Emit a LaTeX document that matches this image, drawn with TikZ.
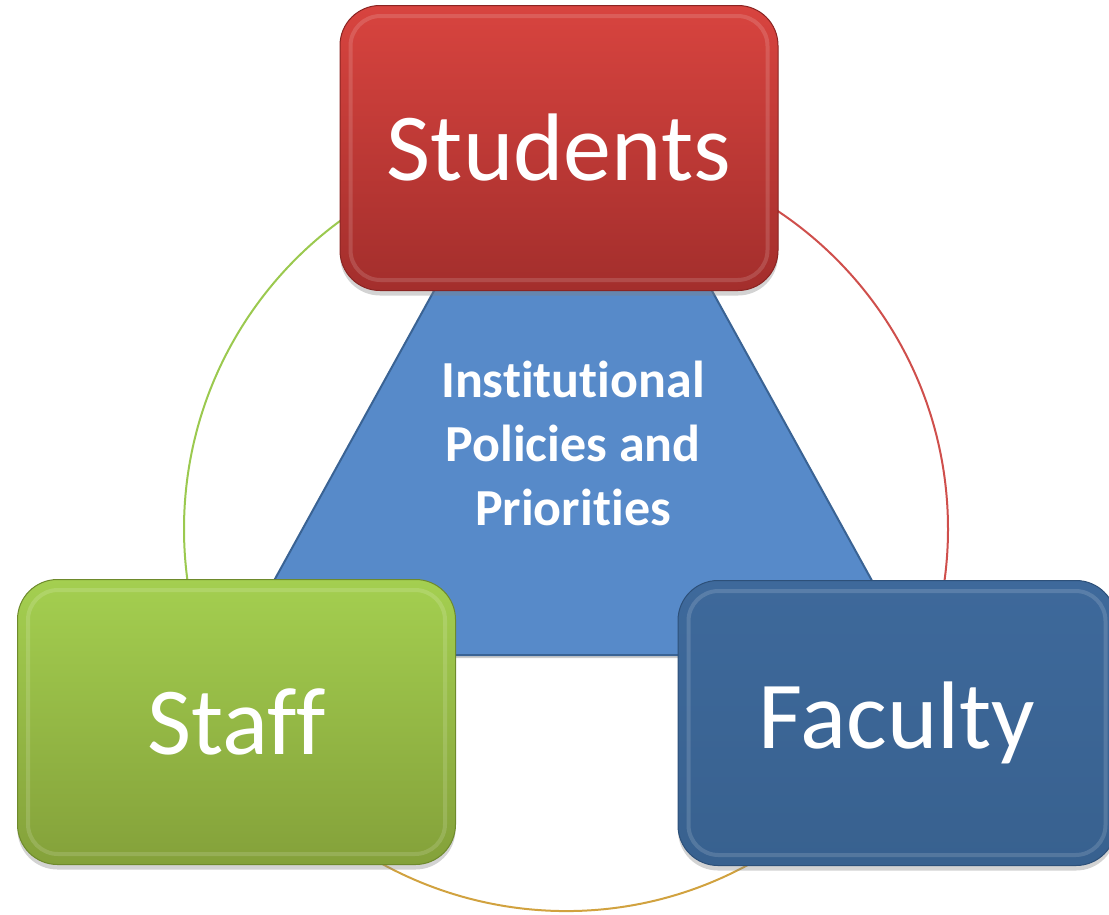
\documentclass[tikz,border=0pt]{standalone}
\usepackage{fontspec}
\setmainfont{Carlito}[Ligatures={NoCommon}]
\usetikzlibrary{shadows}

\definecolor{redtop}{HTML}{D8443F}
\definecolor{redbot}{HTML}{A32E2C}
\definecolor{redrim}{HTML}{8A2422}
\definecolor{greentop}{HTML}{A4CF50}
\definecolor{greenbot}{HTML}{84A13A}
\definecolor{greenrim}{HTML}{6E8A2C}
\definecolor{bluetop}{HTML}{3E699B}
\definecolor{bluebot}{HTML}{38618F}
\definecolor{bluerim}{HTML}{2D5079}
\definecolor{corefill}{HTML}{578AC9}
\definecolor{corerim}{HTML}{3A6394}
\definecolor{arcgreen}{HTML}{9BC94F}
\definecolor{arcred}{HTML}{CF4F4C}
\definecolor{arcgold}{HTML}{D1A23F}

\begin{document}
\begin{tikzpicture}[x=1pt,y=-1pt,
    tile/.style={rounded corners=40pt,minimum width=438pt,minimum height=285pt,line width=1pt,
        text=white,font=\fontsize{96}{115}\selectfont,
        drop shadow={opacity=0.35,shadow xshift=0pt,shadow yshift=-5pt}},
    bevel/.style={rounded corners=30pt,line width=4pt,draw=white,draw opacity=0.14},
    ring/.style={line width=2pt}]
    \useasboundingbox (0,0) rectangle (1109,914);
    \clip (0,0) rectangle (1109,914);

    \coordinate (hub) at (566,529);
    \draw[ring,arcgreen] (hub) ++(270:382) arc[start angle=270,end angle=150,radius=382];
    \draw[ring,arcred]   (hub) ++(270:382) arc[start angle=-90,end angle=30,radius=382];
    \draw[ring,arcgold]  (hub) ++(150:382) arc[start angle=150,end angle=30,radius=382];

    \filldraw[fill=corefill,draw=corerim,line width=2pt,
        drop shadow={opacity=0.4,shadow xshift=2pt,shadow yshift=-3pt}]
        (573,39) -- (913,655) -- (233,655) -- cycle;
    \node [text=white,align=center,font=\bfseries\fontsize{52}{64}\selectfont] (core) at (573,443)
        {Institutional\\Policies and\\Priorities};

    \node [tile,top color=redtop,bottom color=redbot,draw=redrim]       (students) at (559,148)   {Students};
    \node [tile,top color=greentop,bottom color=greenbot,draw=greenrim] (staff)    at (236.5,722) {Staff};
    \node [tile,top color=bluetop,bottom color=bluebot,draw=bluerim]    (faculty)  at (897,723)   {Faculty};

    \foreach \n in {students,staff,faculty}
        \draw[bevel] ([shift={(11,11)}]\n.north west) rectangle ([shift={(-11,-11)}]\n.south east);
\end{tikzpicture}
\end{document}
